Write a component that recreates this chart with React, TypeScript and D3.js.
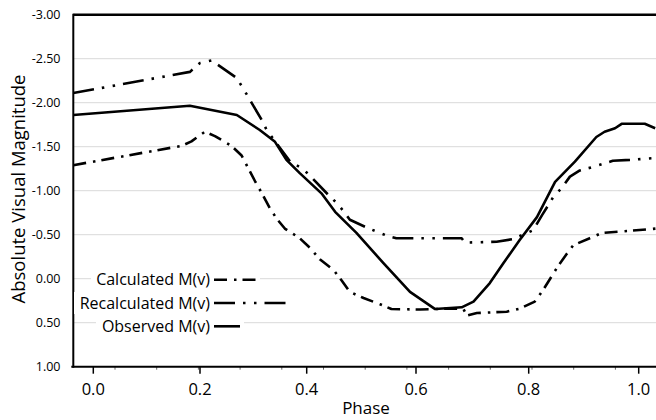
import React from "react";
import * as d3 from "d3";

// ---- data (phase, absolute visual magnitude) ----
const calcPhase = [-0.0375, 0.166, 0.184, 0.209, 0.228, 0.259, 0.278, 0.29, 0.303, 0.316, 0.331, 0.344, 0.359, 0.369, 0.387, 0.406, 0.424, 0.449, 0.464, 0.479, 0.504, 0.534, 0.555, 0.607, 0.66, 0.684, 0.69, 0.708, 0.761, 0.784, 0.811, 0.826, 0.839, 0.854, 0.869, 0.881, 0.911, 0.933, 0.966, 1.015, 1.032];
const calcMag = [-1.29, -1.51, -1.56, -1.67, -1.62, -1.51, -1.4, -1.26, -1.11, -0.97, -0.8, -0.68, -0.57, -0.53, -0.46, -0.35, -0.22, -0.1, 0.02, 0.15, 0.22, 0.29, 0.345, 0.35, 0.34, 0.34, 0.42, 0.39, 0.375, 0.34, 0.26, 0.13, 0.0, -0.15, -0.28, -0.38, -0.46, -0.52, -0.535, -0.56, -0.57];

const recalcPhase = [-0.0375, 0.181, 0.2, 0.222, 0.269, 0.287, 0.316, 0.325, 0.369, 0.387, 0.403, 0.44, 0.455, 0.467, 0.479, 0.51, 0.546, 0.564, 0.681, 0.687, 0.743, 0.772, 0.808, 0.824, 0.845, 0.86, 0.875, 0.893, 0.917, 0.953, 0.984, 1.026];
const recalcMag = [-2.11, -2.35, -2.45, -2.48, -2.28, -2.1, -1.8, -1.69, -1.33, -1.27, -1.19, -0.95, -0.86, -0.77, -0.67, -0.58, -0.49, -0.46, -0.46, -0.41, -0.42, -0.45, -0.55, -0.72, -0.93, -1.03, -1.16, -1.23, -1.27, -1.34, -1.35, -1.37];

const obsPhase = [-0.0375, 0.181, 0.269, 0.312, 0.34, 0.362, 0.387, 0.427, 0.452, 0.491, 0.54, 0.589, 0.634, 0.681, 0.702, 0.731, 0.755, 0.784, 0.815, 0.848, 0.884, 0.923, 0.938, 0.957, 0.969, 1.011, 1.03];
const obsMag = [-1.86, -1.965, -1.86, -1.69, -1.56, -1.35, -1.2, -0.97, -0.76, -0.52, -0.18, 0.15, 0.345, 0.325, 0.26, 0.05, -0.175, -0.44, -0.7, -1.1, -1.33, -1.61, -1.67, -1.71, -1.76, -1.76, -1.71];

const xTicks = [0, 0.2, 0.4, 0.6, 0.8, 1.0];
const yTicks = [-3, -2.5, -2, -1.5, -1, -0.5, 0, 0.5, 1];

const seriesNames = ["Calculated M(v)", "Recalculated M(v)", "Observed M(v)"];

const W = 656;
const H = 420;
const FONT = "'Open Sans', sans-serif";

export default function App() {
  const left = 73.3;
  const top = 14.7;
  const bottom = 366.7;
  const right = 700;

  const x = d3.scaleLinear().domain(xTicks).range([93.3, 200, 306.7, 416, 528.7, 638.7]);
  const y = d3.scaleLinear().domain([-3, 1]).range([top, bottom]);

  const line = d3
    .line<[number, number]>()
    .x((d) => x(d[0]))
    .y((d) => y(d[1]));

  const zip = (a: number[], b: number[]) => a.map((v, i) => [v, b[i]] as [number, number]);

  const series = [
    { name: seriesNames[0], pts: zip(calcPhase, calcMag), dash: "13 7 2.5 6", sample: 42 },
    { name: seriesNames[1], pts: zip(recalcPhase, recalcMag), dash: "21 8 2.5 8.5 2.5 8", sample: 72 },
    { name: seriesNames[2], pts: zip(obsPhase, obsMag), dash: "none", sample: 26 },
  ];

  const minorStep = 41.7;
  const minor = d3.range(left + minorStep, W, minorStep);

  const legendRight = 210;
  const legendY0 = y(0) + 1;
  const legendDy = 23.3;

  return (
    <svg width={W} height={H} style={{ position: "absolute", left: 0, top: 0, background: "#fff" }}>
      <defs>
        <clipPath id="plot">
          <rect x={left} y={top} width={right - left} height={bottom - top} />
        </clipPath>
      </defs>
      {/* gridlines */}
      {yTicks.filter((t) => t > -3 && t < 1).map((t) => (
        <line key={t} x1={left} x2={W} y1={y(t)} y2={y(t)} stroke="#d9d9d9" strokeWidth={1} />
      ))}
      {/* y labels */}
      {yTicks.map((t) => (
        <text key={t} x={60.5} y={y(t)} dy="0.35em" textAnchor="end" fontFamily={FONT} fontSize={12.5} fill="#000">
          {t.toFixed(2)}
        </text>
      ))}
      {/* x minor ticks */}
      {minor.map((m, i) => (
        <line key={i} x1={m} x2={m} y1={bottom} y2={bottom + 3} stroke="#666" strokeWidth={1} />
      ))}
      {/* x major ticks and labels */}
      {xTicks.map((t) => (
        <g key={t}>
          <line x1={x(t)} x2={x(t)} y1={bottom} y2={bottom + 7} stroke="#000" strokeWidth={1.5} />
          <text x={x(t)} y={395} textAnchor="middle" fontFamily={FONT} fontSize={16.5} fill="#000">
            {t.toFixed(1)}
          </text>
        </g>
      ))}
      {/* series */}
      <g clipPath="url(#plot)">
        {series.map((s) => (
          <path
            key={s.name}
            d={line(s.pts) || ""}
            fill="none"
            stroke="#000"
            strokeWidth={2.6}
            strokeDasharray={s.dash}
            strokeLinejoin="round"
          />
        ))}
      </g>
      {/* frame */}
      <line x1={left} x2={W} y1={top} y2={top} stroke="#000" strokeWidth={2.5} />
      <line x1={left} x2={left} y1={top - 1} y2={bottom + 1} stroke="#000" strokeWidth={2} />
      <line x1={left - 2} x2={W} y1={bottom} y2={bottom} stroke="#000" strokeWidth={2} />
      {/* legend */}
      {series.map((s, i) => {
        const cy = legendY0 + i * legendDy;
        const textW = [113, 130, 108][i];
        return (
          <g key={s.name}>
            <rect x={legendRight - textW - 6} y={cy - 11} width={textW + 6 + 4 + s.sample + 4} height={22} fill="#fff" />
            <text x={legendRight} y={cy} dy="0.35em" textAnchor="end" fontFamily={FONT} fontSize={16} fill="#000">
              {s.name}
            </text>
            <line x1={legendRight + 4} x2={legendRight + 4 + s.sample} y1={cy} y2={cy} stroke="#000" strokeWidth={2.6} strokeDasharray={s.dash} />
          </g>
        );
      })}
      {/* axis titles */}
      <text x={366} y={413.5} textAnchor="middle" fontFamily={FONT} fontSize={17} fill="#000">
        Phase
      </text>
      <text transform={`translate(25,189) rotate(-90)`} textAnchor="middle" fontFamily={FONT} fontSize={18.5} fill="#000">
        Absolute Visual Magnitude
      </text>
    </svg>
  );
}
